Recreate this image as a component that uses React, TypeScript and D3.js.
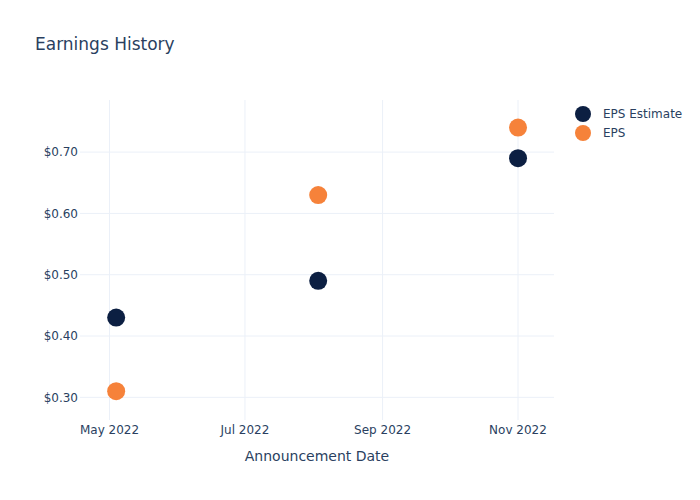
import React from "react";
import * as d3 from "d3";

const dates = ["2022-05-04", "2022-08-03", "2022-11-01"];
const epsEstimate = [0.43, 0.49, 0.69];
const eps = [0.31, 0.63, 0.74];
const xTicks = ["2022-05-01", "2022-07-01", "2022-09-01", "2022-11-01"];
const yTicks = [0.3, 0.4, 0.5, 0.6, 0.7];
const seriesNames = ["EPS Estimate", "EPS"];
const colors = ["#0c1f42", "#f6823a"];

const W = 700, H = 500;
const M = { l: 80, r: 146, t: 100, b: 80 };
const font = "'DejaVu Sans', Verdana, sans-serif";
const textColor = "#2a3f5f";
const gridColor = "#ebf0f8";

export default function App() {
  const parse = d3.utcParse("%Y-%m-%d");
  const x = d3
    .scaleUtc()
    .domain([new Date("2022-04-17T17:00:00Z"), new Date("2022-11-17T05:00:00Z")])
    .range([M.l, W - M.r]);
  const y = d3.scaleLinear().domain([0.263, 0.785]).range([H - M.b, M.t]);
  const fmtX = d3.utcFormat("%b %Y");
  const series = [epsEstimate, eps];

  return (
    <svg width={W} height={H} style={{ position: "absolute", left: 0, top: 0, background: "#fff" }} fontFamily={font}>
      {xTicks.map((t) => (
        <line key={t} x1={x(parse(t)!)} x2={x(parse(t)!)} y1={M.t} y2={H - M.b} stroke={gridColor} strokeWidth={1} />
      ))}
      {yTicks.map((t) => (
        <line key={t} x1={M.l} x2={W - M.r} y1={y(t)} y2={y(t)} stroke={gridColor} strokeWidth={1} />
      ))}
      {xTicks.map((t) => (
        <text key={t} x={x(parse(t)!)} y={H - M.b + 5} dy="0.71em" textAnchor="middle" fontSize={12} fill={textColor}>
          {fmtX(parse(t)!)}
        </text>
      ))}
      {yTicks.map((t) => (
        <text key={t} x={M.l - 2} y={y(t)} dy="0.35em" textAnchor="end" fontSize={12} fill={textColor}>
          {"$" + t.toFixed(2)}
        </text>
      ))}
      {series.map((vals, si) =>
        vals.map((v, i) => (
          <circle key={si + "-" + i} cx={x(parse(dates[i])!)} cy={y(v)} r={9} fill={colors[si]} />
        ))
      )}
      <text x={35} y={50} fontSize={17} fill={textColor}>Earnings History</text>
      <text x={(M.l + W - M.r) / 2} y={461} textAnchor="middle" fontSize={14} fill={textColor}>
        Announcement Date
      </text>
      {seriesNames.map((n, i) => (
        <g key={n} transform={`translate(583, ${114 + i * 19})`}>
          <circle r={8} fill={colors[i]} />
          <text x={20} dy="0.35em" fontSize={12} fill={textColor}>{n}</text>
        </g>
      ))}
    </svg>
  );
}
